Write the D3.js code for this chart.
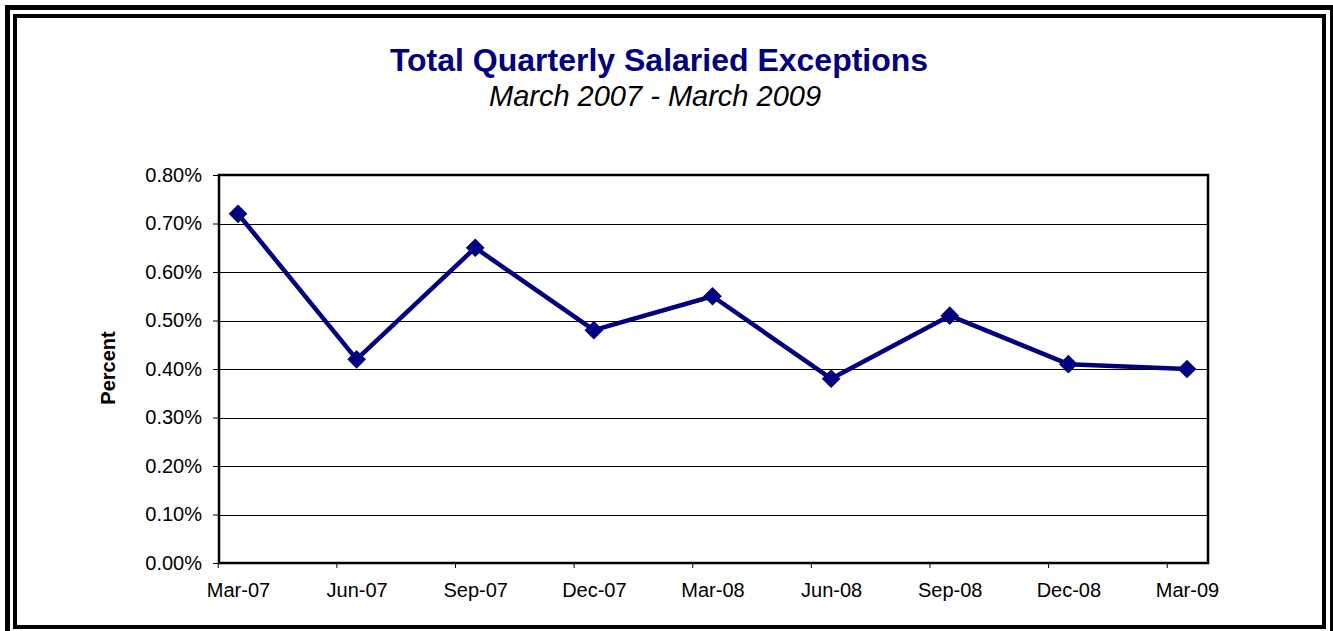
<!DOCTYPE html>
<html>
<head>
<meta charset="utf-8">
<script src="https://cdnjs.cloudflare.com/ajax/libs/d3/7.8.5/d3.min.js"></script>
<style>
  body { margin: 0; background: #fff; }
  text { font-family: "Liberation Sans", Arial, sans-serif; }
</style>
</head>
<body>
<div id="chart"></div>
<script>
// data
var quarters = ["Mar-07", "Jun-07", "Sep-07", "Dec-07", "Mar-08", "Jun-08", "Sep-08", "Dec-08", "Mar-09"];
var exceptions = [0.0072, 0.0042, 0.0065, 0.0048, 0.0055, 0.0038, 0.0051, 0.0041, 0.0040];
var yTicks = [0, 0.001, 0.002, 0.003, 0.004, 0.005, 0.006, 0.007, 0.008];

var svgWidth = 1333;
var svgHeight = 631;
var margin = { top: 175, right: 125, bottom: 68, left: 219 };
var width = svgWidth - margin.left - margin.right;
var height = svgHeight - margin.top - margin.bottom;
var navy = "#000080";

var svg = d3.select("#chart").append("svg")
  .attr("width", svgWidth)
  .attr("height", svgHeight);

// double frame round the whole chart
svg.append("rect")
  .attr("x", 7.5).attr("y", 7.5)
  .attr("width", 1325).attr("height", 628)
  .attr("fill", "none").attr("stroke", "#000").attr("stroke-width", 5);
svg.append("rect")
  .attr("x", 15).attr("y", 16)
  .attr("width", 1309).attr("height", 611)
  .attr("fill", "none").attr("stroke", "#000").attr("stroke-width", 4);

// titles
svg.append("text")
  .attr("x", 659).attr("y", 71)
  .attr("text-anchor", "middle")
  .attr("font-size", 32).attr("font-weight", "bold")
  .attr("fill", navy)
  .text("Total Quarterly Salaried Exceptions");
svg.append("text")
  .attr("x", 655).attr("y", 106)
  .attr("text-anchor", "middle")
  .attr("font-size", 29).attr("font-style", "italic")
  .attr("fill", "#000")
  .text("March 2007 - March 2009");

var chartGroup = svg.append("g")
  .attr("transform", `translate(${margin.left}, ${margin.top})`);

var xScale = d3.scalePoint().domain(quarters).range([19, 968]);
var yScale = d3.scaleLinear().domain([0, 0.008]).range([height, 0]);

// gridlines
chartGroup.append("g")
  .selectAll("line")
  .data(yTicks.slice(1, -1))
  .enter().append("line")
  .attr("x1", 0).attr("x2", width)
  .attr("y1", d => Math.round(yScale(d)) + 0.5)
  .attr("y2", d => Math.round(yScale(d)) + 0.5)
  .attr("stroke", "#000").attr("stroke-width", 1);

// y axis
var leftAxis = d3.axisLeft(yScale)
  .tickValues(yTicks)
  .tickFormat(d3.format(".2%"))
  .tickSize(6).tickSizeOuter(0).tickPadding(11);
var yAxis = chartGroup.append("g").call(leftAxis);
yAxis.select(".domain").remove();
yAxis.selectAll("line").attr("stroke", "#000");
yAxis.selectAll("text")
  .attr("font-size", 20)
  .attr("font-family", "Liberation Sans, Arial, sans-serif")
  .attr("fill", "#000");

// x axis: labels under the points, tick marks set a little to the left
var tickShift = xScale.step() / 6;
var bottomAxis = d3.axisBottom(xScale).tickSize(0).tickPadding(20);
var xAxis = chartGroup.append("g")
  .attr("transform", `translate(0, ${height})`)
  .call(bottomAxis);
xAxis.select(".domain").remove();
xAxis.selectAll("text")
  .attr("font-size", 20)
  .attr("font-family", "Liberation Sans, Arial, sans-serif")
  .attr("fill", "#000");
chartGroup.append("g")
  .selectAll("line")
  .data(quarters)
  .enter().append("line")
  .attr("x1", d => xScale(d) - tickShift)
  .attr("x2", d => xScale(d) - tickShift)
  .attr("y1", height).attr("y2", height + 5)
  .attr("stroke", "#000").attr("stroke-width", 1);

// plot frame
chartGroup.append("rect")
  .attr("x", 0).attr("y", 0)
  .attr("width", width).attr("height", height)
  .attr("fill", "none").attr("stroke", "#000").attr("stroke-width", 2.5);

// y label
chartGroup.append("text")
  .attr("transform", "rotate(-90)")
  .attr("x", 0 - (300 - margin.top + 68))
  .attr("y", 115 - margin.left)
  .attr("text-anchor", "middle")
  .attr("font-size", 20).attr("font-weight", "bold")
  .text("Percent");

// series line and markers
var line = d3.line()
  .x((d, i) => xScale(quarters[i]))
  .y(d => yScale(d));
chartGroup.append("path")
  .datum(exceptions)
  .attr("d", line)
  .attr("fill", "none")
  .attr("stroke", navy)
  .attr("stroke-width", 4.5)
  .attr("stroke-linejoin", "round");

var diamond = d3.symbol().type(d3.symbolSquare).size(175);
chartGroup.selectAll(".marker")
  .data(exceptions)
  .enter().append("path")
  .classed("marker", true)
  .attr("d", diamond)
  .attr("transform", (d, i) => `translate(${xScale(quarters[i])}, ${yScale(d)}) rotate(45)`)
  .attr("fill", navy);
</script>
</body>
</html>
